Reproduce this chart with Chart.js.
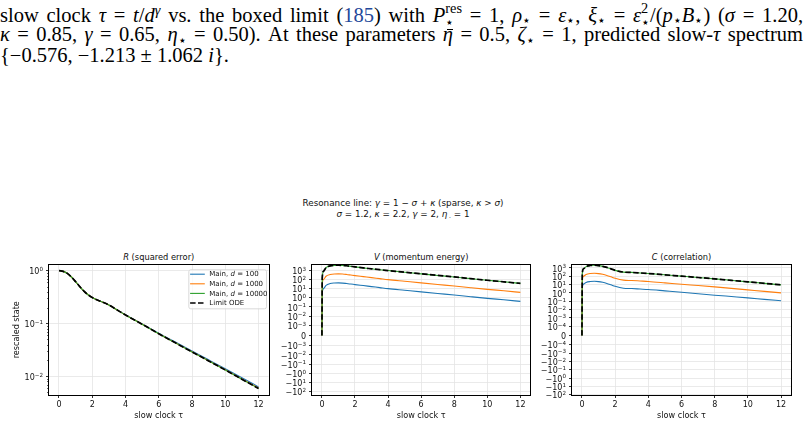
<!DOCTYPE html>
<html><head><meta charset="utf-8">
<script src="https://cdn.jsdelivr.net/npm/chart.js@4.4.1/dist/chart.umd.min.js"></script>
<style>
html,body{margin:0;padding:0;background:#fff;}
body{width:806px;height:425px;position:relative;overflow:hidden;}
.para{position:absolute;left:0;width:803px;font-family:"Liberation Serif",serif;font-size:20.5px;line-height:22px;white-space:nowrap;color:#000;}
.just{text-align:justify;text-align-last:justify;}
.para sup,.para sub{font-size:70%;line-height:0;}
.para sup{vertical-align:0.5em;}
.para sub{vertical-align:-0.25em;}
.ss{display:inline-flex;flex-direction:column;vertical-align:0.62em;font-size:70%;line-height:1.0;}
.ref{color:#23489a;}
.bar{position:relative;}
.bar::before{content:'';position:absolute;left:0.18em;right:0.02em;top:0.3em;border-top:1px solid #000;}
.sup{position:absolute;left:0;width:806px;text-align:center;font-family:"DejaVu Sans",sans-serif;font-size:8.8px;line-height:11px;color:#111;}
.ttl{position:absolute;top:251px;font-family:"DejaVu Sans",sans-serif;font-size:8.3px;line-height:12px;text-align:center;color:#111;}
canvas{position:absolute;top:245px;}
</style></head><body>
<div class="para just" style="top:1px">slow clock <i>τ</i> = <i>t</i>/<i>d</i><sup><i>γ</i></sup> vs. the boxed limit (<span class="ref">185</span>) with <i>P</i><span class="ss"><span>res</span><span>⋆</span></span> = 1, <i>ρ</i><sub>⋆</sub> = <i>ε</i><sub>⋆</sub>, <i>ξ</i><sub>⋆</sub> = <i>ε</i><span class="ss"><span>2</span><span>⋆</span></span>/(<i>p</i><sub>⋆</sub><i>B</i><sub>⋆</sub>) (<i>σ</i> = 1.20,</div>
<div class="para just" style="top:23px"><i>κ</i> = 0.85, <i>γ</i> = 0.65, <i>η</i><sub>⋆</sub> = 0.50). At these parameters <span class="bar"><i>η</i></span> = 0.5, <i>ζ</i><sub>⋆</sub> = 1, predicted slow-<i>τ</i> spectrum</div>
<div class="para" style="top:44px">{−0.576, −1.213 ± 1.062 <i>i</i>}.</div>

<div class="sup" style="top:197.5px">Resonance line: <i>γ</i> = 1 − <i>σ</i> + <i>κ</i> (sparse, <i>κ</i> &gt; <i>σ</i>)</div>
<div class="sup" style="top:208.5px"><i>σ</i> = 1.2, <i>κ</i> = 2.2, <i>γ</i> = 2, <i>η</i><span style="font-size:6px;position:relative;top:1px"> .</span> = 1</div>

<div class="ttl" style="left:49px;width:219.5px"><i>R</i> (squared error)</div>
<div class="ttl" style="left:312px;width:218.3px"><i>V</i> (momentum energy)</div>
<div class="ttl" style="left:572px;width:219px"><i>C</i> (correlation)</div>

<canvas id="cR" width="275" height="180" style="left:0px"></canvas>
<canvas id="cV" width="265" height="180" style="left:275px"></canvas>
<canvas id="cC" width="266" height="180" style="left:540px"></canvas>

<script>
// ---------------- data ----------------
const tau = [0, 0.02, 0.1, 0.25, 0.5, 0.75, 1, 1.25, 1.5, 1.75, 2, 2.5, 3, 3.5, 4, 5, 6, 7, 8, 9, 10, 11, 12];

const seriesLabels = ['Main, d = 100', 'Main, d = 1000', 'Main, d = 10000', 'Limit ODE'];

// R (squared error)
const rMain100   = [1.0, 1.0, 0.995, 0.97, 0.89, 0.76, 0.62, 0.50, 0.41, 0.35, 0.31, 0.264, 0.225, 0.181, 0.146, 0.098, 0.0655, 0.0445, 0.0302, 0.0205, 0.0139, 0.0094, 0.0063];
const rMain1000  = [1.0, 1.0, 0.995, 0.97, 0.89, 0.76, 0.62, 0.50, 0.41, 0.35, 0.31, 0.263, 0.224, 0.180, 0.145, 0.097, 0.0642, 0.0432, 0.0292, 0.0197, 0.0133, 0.0089, 0.0060];
const rMain10000 = [1.0, 1.0, 0.995, 0.97, 0.89, 0.76, 0.62, 0.50, 0.41, 0.35, 0.31, 0.263, 0.224, 0.180, 0.145, 0.097, 0.064, 0.043, 0.029, 0.0196, 0.0132, 0.0088, 0.0059];
const rLimit     = [1.0, 1.0, 0.995, 0.97, 0.89, 0.76, 0.62, 0.50, 0.41, 0.35, 0.31, 0.263, 0.224, 0.180, 0.145, 0.097, 0.064, 0.043, 0.029, 0.0196, 0.0132, 0.0088, 0.0059];

// V (momentum energy)
const vMain100   = [0, 3.55, 10, 22.4, 35.5, 40.7, 41.7, 39.8, 35.5, 31.6, 27.5, 21.4, 16.6, 12.9, 10, 6.61, 4.37, 2.95, 2.04, 1.32, 0.871, 0.603, 0.407];
const vMain1000  = [0, 31.6, 100, 224, 339, 398, 407, 389, 347, 302, 263, 204, 158, 123, 95.5, 63.1, 41.7, 28.2, 19.5, 12.6, 8.32, 5.75, 3.89];
const vMain10000 = [0, 150, 780, 1980, 3000, 3450, 3530, 3370, 3080, 2680, 2330, 1810, 1440, 1140, 930, 614, 405, 274, 185, 122, 81, 55, 37];
const vLimit     = [0, 158, 794, 1995, 3020, 3467, 3548, 3388, 3090, 2692, 2344, 1820, 1445, 1148, 933, 617, 407, 275, 186, 123, 81.3, 55, 37.2];

// C (correlation)
const cMain100   = [0, 3.98, 11.2, 17.8, 22.9, 24.5, 22.4, 18.2, 13.5, 9.12, 6.03, 3.63, 3.31, 2.88, 2.51, 1.74, 1.20, 0.794, 0.525, 0.363, 0.251, 0.166, 0.112];
const cMain1000  = [0, 39.8, 100, 158, 209, 224, 204, 166, 123, 83.2, 55.0, 33.1, 30.2, 26.3, 22.9, 15.8, 10.7, 7.59, 5.25, 3.47, 2.29, 1.51, 1.0];
const cMain10000 = [0, 190, 780, 1400, 1890, 2030, 1850, 1500, 1115, 755, 498, 307, 281, 244, 208, 145, 100, 69, 47.8, 31.5, 20.8, 13.8, 9.1];
const cLimit     = [0, 200, 794, 1413, 1905, 2042, 1862, 1514, 1122, 759, 501, 309, 282, 245, 209, 145, 100, 69.2, 47.9, 31.6, 20.9, 13.8, 9.12];

// tick values
const xTicks = [0, 2, 4, 6, 8, 10, 12];
const rTicks = [1, 0.1, 0.01];
const vTicks = [1e3, 1e2, 1e1, 1, 1e-1, 1e-2, 1e-3, 0, -1e-3, -1e-2, -1e-1, -1, -1e1, -1e2];
const cTicks = [1e3, 1e2, 1e1, 1, 1e-1, 1e-2, 1e-3, 1e-4, 0, -1e-4, -1e-3, -1e-2, -1e-1, -1, -1e1, -1e2];
const vLinThresh = 1e-3;
const cLinThresh = 1e-4;

// ---------------- styles ----------------
const COLORS = ['#1f77b4', '#ff7f0e', '#2ca02c', '#000000'];
const WIDTHS = [1.1, 1.1, 1.1, 1.7];
const DASHES = [[], [], [], [5.5, 2.4]];
const ORDERS = [4, 3, 2, 1];
const GRID = '#e4e4e4';
const TICK = 8, LAB = 8.1, LEG = 7;
const FAM = '"DejaVu Sans", sans-serif';

Chart.defaults.font.family = FAM;
Chart.defaults.color = '#111';

const LINADJ = 1 / (1 - 1 / 10);
function symlog(v, lt) {
  const a = Math.abs(v);
  return a <= lt ? v / lt * LINADJ : Math.sign(v) * (LINADJ + Math.log10(a / lt));
}
function fmtDecade(v) {
  if (v === 0) return '0';
  const e = Math.round(Math.log10(Math.abs(v)));
  return (v < 0 ? '−' : '') + '10^' + String(e).replace('-', '−');
}

function makeDatasets(arrs, tf) {
  return arrs.map((vals, i) => ({
    label: seriesLabels[i],
    data: tau.map((t, k) => ({x: t, y: tf(vals[k])})),
    borderColor: COLORS[i], borderWidth: WIDTHS[i], borderDash: DASHES[i],
    pointRadius: 0, fill: false, cubicInterpolationMode: 'monotone', order: ORDERS[i]
  }));
}

function xAxis() {
  return {
    type: 'linear', min: -0.6, max: 12.6,
    afterBuildTicks: s => { s.ticks = xTicks.map(v => ({value: v})); },
    afterFit: s => { s.height = 30; },
    grid: {color: GRID, lineWidth: 0.8, tickColor: '#000', tickLength: 3, tickWidth: 0.8},
    border: {display: false},
    ticks: {font: {size: TICK}, padding: 2, maxRotation: 0, autoSkip: false, color: '#111', callback: v => String(v)},
    title: {display: true, text: 'slow clock τ', font: {size: LAB}, padding: {top: 0, bottom: 4}}
  };
}

const framePlugin = {
  id: 'frame',
  afterDraw(chart) {
    const {ctx, chartArea: a} = chart;
    ctx.save();
    ctx.strokeStyle = '#000'; ctx.lineWidth = 1;
    const l = Math.round(a.left) - 0.5, t = Math.round(a.top) - 0.5;
    const r = Math.round(a.right) + 0.5, b = Math.round(a.bottom) + 0.5;
    ctx.strokeRect(l, t, r - l, b - t);
    ctx.restore();
  }
};

// y tick labels with real superscripts (mathtext-like "10^k"), placed at the scale's tick pixels
const mathTicksPlugin = {
  id: 'mathTicks',
  afterDraw(chart) {
    const s = chart.scales.y, ctx = chart.ctx, a = chart.chartArea;
    const labels = s.ticks.map(t => t.label);
    ctx.save();
    ctx.fillStyle = '#111'; ctx.textBaseline = 'alphabetic'; ctx.textAlign = 'left';
    const right = a.left - 6;
    labels.forEach((lab, i) => {
      const y = s.getPixelForTick(i);
      const parts = String(lab).split('^');
      const base = parts[0], exp = parts[1] || '';
      const by = y + TICK * 0.36 + 0.8;
      ctx.font = TICK + 'px ' + FAM; const wb = ctx.measureText(base).width;
      ctx.font = (TICK * 0.7) + 'px ' + FAM; const we = ctx.measureText(exp).width;
      const x0 = right - wb - we;
      ctx.font = TICK + 'px ' + FAM; ctx.fillText(base, x0, by);
      if (exp) { ctx.font = (TICK * 0.7) + 'px ' + FAM; ctx.fillText(exp, x0 + wb, by - TICK * 0.42); }
    });
    ctx.restore();
  }
};

const minorLogPlugin = {
  id: 'minorLog',
  afterDraw(chart) {
    const s = chart.scales.y; const a = chart.chartArea; const ctx = chart.ctx;
    ctx.save(); ctx.strokeStyle = '#000'; ctx.lineWidth = 0.6;
    for (let k = -3; k <= 0; k++) for (let m = 2; m <= 9; m++) {
      const v = m * Math.pow(10, k);
      if (v < s.min || v > s.max) continue;
      const y = Math.round(s.getPixelForValue(v)) + 0.5;
      ctx.beginPath(); ctx.moveTo(a.left - 2, y); ctx.lineTo(a.left, y); ctx.stroke();
    }
    ctx.restore();
  }
};

const boxLegendPlugin = {
  id: 'boxLegend',
  afterDatasetsDraw(chart) {
    const {ctx, chartArea: a} = chart;
    const w = 77.7, h = 39, x0 = a.right - 2.5 - w, y0 = a.top + 4.8, rows = 9.6;
    ctx.save();
    ctx.beginPath();
    if (ctx.roundRect) ctx.roundRect(x0 + 0.5, y0 + 0.5, w, h, 2); else ctx.rect(x0 + 0.5, y0 + 0.5, w, h);
    ctx.fillStyle = 'rgba(255,255,255,0.8)'; ctx.fill();
    ctx.strokeStyle = '#d0d0d0'; ctx.lineWidth = 0.8; ctx.stroke();
    chart.data.datasets.forEach((ds, i) => {
      const y = y0 + 4.9 + i * rows;
      ctx.beginPath(); ctx.setLineDash(ds.borderDash || []);
      ctx.strokeStyle = ds.borderColor; ctx.lineWidth = ds.borderWidth;
      ctx.moveTo(x0 + 1.8, y); ctx.lineTo(x0 + 16.5, y); ctx.stroke();
      ctx.setLineDash([]);
      ctx.fillStyle = '#111'; ctx.textBaseline = 'middle';
      let x = x0 + 21;
      const lab = ds.label;
      const m = lab.match(/^(Main, )d( = .*)$/);
      const segs = m ? [[m[1], ''], ['d', 'italic '], [m[2], '']] : [[lab, '']];
      segs.forEach(([t, st]) => {
        ctx.font = st + LEG + 'px ' + FAM;
        ctx.fillText(t, x, y + 0.3);
        x += ctx.measureText(t).width;
      });
    });
    ctx.restore();
  }
};

function baseOptions(padRight, yAxis) {
  return {
    responsive: false, animation: false, devicePixelRatio: 1,
    layout: {padding: {left: 0, right: padRight, top: 19.5, bottom: 0}},
    plugins: {legend: {display: false}, tooltip: {enabled: false}},
    scales: {x: xAxis(), y: yAxis}
  };
}

// R chart
new Chart(document.getElementById('cR'), {
  type: 'line',
  data: {datasets: makeDatasets([rMain100, rMain1000, rMain10000, rLimit], v => v)},
  options: baseOptions(6.5, {
    type: 'logarithmic', min: 0.00443, max: 1.31,
    afterBuildTicks: s => { s.ticks = rTicks.map(v => ({value: v})); },
    afterFit: s => { s.width = 49; },
    grid: {color: GRID, lineWidth: 0.8, tickColor: '#000', tickLength: 3, tickWidth: 0.8},
    border: {display: false},
    ticks: {font: {size: TICK}, padding: 3, autoSkip: false, color: 'rgba(0,0,0,0)', callback: (v, i) => fmtDecade(rTicks[i])},
    title: {display: true, text: 'rescaled state', font: {size: LAB}, padding: {top: 12, bottom: 0}}
  }),
  plugins: [framePlugin, minorLogPlugin, mathTicksPlugin, boxLegendPlugin]
});

function symlogAxis(ticksArr, lt, min, max, width) {
  return {
    type: 'linear', min: min, max: max,
    afterBuildTicks: s => { s.ticks = ticksArr.map(v => ({value: symlog(v, lt)})); },
    afterFit: s => { s.width = width; },
    grid: {color: GRID, lineWidth: 0.8, tickColor: '#000', tickLength: 3, tickWidth: 0.8},
    border: {display: false},
    ticks: {font: {size: TICK}, padding: 3, autoSkip: false, color: 'rgba(0,0,0,0)', callback: (v, i) => fmtDecade(ticksArr[i])}
  };
}

// V chart
new Chart(document.getElementById('cV'), {
  type: 'line',
  data: {datasets: makeDatasets([vMain100, vMain1000, vMain10000, vLimit], v => symlog(v, vLinThresh))},
  options: baseOptions(9.7, symlogAxis(vTicks, vLinThresh, -6.49, 7.74, 37)),
  plugins: [framePlugin, mathTicksPlugin]
});

// C chart
new Chart(document.getElementById('cC'), {
  type: 'line',
  data: {datasets: makeDatasets([cMain100, cMain1000, cMain10000, cLimit], v => symlog(v, cLinThresh))},
  options: baseOptions(15, symlogAxis(cTicks, cLinThresh, -7.14, 8.51, 32)),
  plugins: [framePlugin, mathTicksPlugin]
});
</script>
</body></html>
